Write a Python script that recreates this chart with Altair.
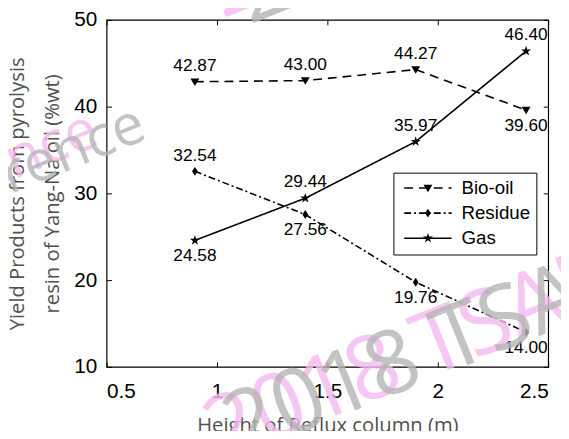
import altair as alt
import pandas as pd

# ---------------- data ----------------
heights = [0.9, 1.4, 1.9, 2.4]
series = ["Bio-oil", "Residue", "Gas"]
bio_oil = [42.87, 43.00, 44.27, 39.60]
residue = [32.54, 27.56, 19.76, 14.00]
gas = [24.58, 29.44, 35.97, 46.40]
label_side = {
    "Bio-oil": ["above", "above", "above", "below"],
    "Residue": ["above", "below", "below", "below"],
    "Gas": ["below", "above", "above", "above"],
}
x_ticks = [0.5, 1, 1.5, 2, 2.5]
y_ticks = [10, 20, 30, 40, 50]
x_title = "Height of Reflux column (m)"
y_title = ["Yield Products from pyrolysis", "resin of Yang-Na oil (%wt)"]
watermark_main = "2018 TSAE"
watermark_side = "Conference"

rows = []
for name, vals in zip(series, [bio_oil, residue, gas]):
    for h, v, side in zip(heights, vals, label_side[name]):
        rows.append({"height": h, "yield": v, "series": name, "side": side,
                     "label": f"{v:.2f}"})
df = pd.DataFrame(rows)

# ---------------- styles ----------------
W, H = 448, 352
NUM_FONT = "Liberation Sans"
TITLE_FONT = "Open Sans"
TITLE_COLOR = "#505050"
PINK = "#f5baf1"
GREY = "#b5b5b5"

xscale = alt.Scale(domain=[0.5, 2.5], nice=False, zero=False)
yscale = alt.Scale(domain=[10, 50], nice=False, zero=False)

dash_scale = alt.Scale(domain=series, range=[[9, 6], [7, 3, 2, 3], [1, 0]])

tri = "M-1,-0.75L1,-0.75L0,0.95Z"
dia = "M0,-1L0.65,0L0,1L-0.65,0Z"
star = ("M0,-1.2L0.269,-0.371L1.141,-0.371L0.436,0.142L0.706,0.971L0,0.458"
        "L-0.706,0.971L-0.436,0.142L-1.141,-0.371L-0.269,-0.371Z")
marker_paths = {"Bio-oil": tri, "Residue": dia, "Gas": star}

LEG_X, LEG_Y = 291, 155
LEG_LINE = "M-1,0L9.67,0"   # line sample, in symbol units (size 81 -> 4.5 px/unit)


def tick_axis(orient, offset, values):
    return alt.Axis(orient=orient, offset=offset, values=values, labels=False,
                    domain=False, grid=False, ticks=True, tickSize=5,
                    tickColor="black", tickWidth=1, title="")


# ---------------- layers ----------------
# lines; their strokeDash legend draws the line samples, labels and frame
lines = alt.Chart(df).mark_line(color="black", strokeWidth=1.6).encode(
    x=alt.X("height:Q", scale=xscale,
            axis=alt.Axis(orient="bottom", values=x_ticks, format="~g", ticks=False,
                          tickSize=0, domain=False, grid=False,
                          labelFont=NUM_FONT, labelFontSize=21, labelColor="black",
                          labelPadding=14, title=x_title, titleFont=TITLE_FONT,
                          titleFontSize=20.5, titleFontWeight="normal",
                          titleColor=TITLE_COLOR, titlePadding=15)),
    y=alt.Y("yield:Q", scale=yscale,
            axis=alt.Axis(orient="left", values=y_ticks, ticks=False, tickSize=0,
                          domain=False, grid=False, labelFont=NUM_FONT,
                          labelFontSize=21, labelColor="black", labelPadding=10,
                          title=y_title, titleFont=TITLE_FONT, titleFontSize=20.5,
                          titleFontWeight="normal", titleColor=TITLE_COLOR,
                          titleAngle=270, titleAlign="center",
                          titleBaseline="alphabetic", titleLineHeight=35,
                          titleX=-84, titleY=H / 2)),
    strokeDash=alt.StrokeDash(
        "series:N", scale=dash_scale,
        legend=alt.Legend(title=None, orient="none", legendX=LEG_X, legendY=LEG_Y,
                          direction="vertical", padding=6, strokeColor="black",
                          labelFont=NUM_FONT, labelFontSize=19, labelColor="black",
                          labelOffset=44, symbolType=LEG_LINE, symbolSize=81,
                          symbolStrokeWidth=1.6, symbolStrokeColor="black",
                          rowPadding=5.5)),
)

point_layers = []
for i, name in enumerate(series):
    if i == 0:
        xa = tick_axis("top", -H, x_ticks)
        ya = tick_axis("right", -W, y_ticks)
    else:
        xa = None
        ya = None
    point_layers.append(
        alt.Chart(df).transform_filter(alt.datum.series == name).mark_point(
            filled=True, size=81, color="black", opacity=1, shape=marker_paths[name]
        ).encode(
            x=alt.X("height:Q", scale=xscale, axis=xa),
            y=alt.Y("yield:Q", scale=yscale, axis=ya),
        )
    )

text_above = alt.Chart(df).transform_filter(alt.datum.side == "above").mark_text(
    font=NUM_FONT, fontSize=17.5, color="black", baseline="middle", dy=-16
).encode(
    x=alt.X("height:Q", scale=xscale, axis=tick_axis("bottom", -H, x_ticks)),
    y=alt.Y("yield:Q", scale=yscale, axis=tick_axis("left", -W, y_ticks)),
    text="label:N",
)

text_below = alt.Chart(df).transform_filter(alt.datum.side == "below").mark_text(
    font=NUM_FONT, fontSize=17.5, color="black", baseline="middle", dy=16
).encode(
    x=alt.X("height:Q", scale=xscale, axis=None),
    y=alt.Y("yield:Q", scale=yscale, axis=None),
    text="label:N",
)

# legend-only layer: its shape legend puts the markers onto the line samples
marker_keys = [s + " " for s in series]
legend_layer = alt.Chart(df).transform_filter("false").transform_calculate(
    key="datum.series + ' '"
).mark_point(filled=True, size=81, color="black", opacity=1).encode(
    shape=alt.Shape(
        "key:N",
        scale=alt.Scale(domain=marker_keys, range=[tri, dia, star]),
        legend=alt.Legend(title=None, orient="none", legendX=LEG_X + 19.5,
                          legendY=LEG_Y, direction="vertical", padding=6,
                          labelFont=NUM_FONT, labelFontSize=19, labelOpacity=0,
                          labelOffset=6, symbolSize=81, rowPadding=5.5,
                          symbolStrokeWidth=0, symbolFillColor="black"),
    ),
)

# ---------------- watermark (drawn on top, translucent) ----------------
wm_df = pd.DataFrame({"t": [watermark_main]})
wm_side_df = pd.DataFrame({"t": [watermark_side]})


def wm(data, x, y, color, size, align):
    return alt.Chart(data).mark_text(
        font=TITLE_FONT, fontSize=size, color=color, angle=338, align=align,
        baseline="alphabetic", opacity=0.8
    ).encode(x=alt.value(x), y=alt.value(y), text="t:N")


watermarks = [
    wm(wm_df, 114, 449, PINK, 90, "left"),
    wm(wm_side_df, -5, 126, PINK, 58, "right"),
    wm(wm_df, 117, -1, PINK, 90, "left"),
    wm(wm_df, 134, 444, GREY, 90, "left"),
    wm(wm_side_df, 43, 120, GREY, 58, "right"),
    wm(wm_df, 145, 5, GREY, 90, "left"),
]

chart = alt.layer(
    legend_layer, lines, *point_layers, text_above, text_below, *watermarks
).resolve_axis(
    x="independent", y="independent"
).properties(
    width=W, height=H,
    autosize=alt.AutoSizeParams(type="none"),
    padding={"left": 100, "top": 9, "right": 13, "bottom": 62},
    background="white",
).configure_view(stroke="black", strokeWidth=1.2)

chart.save("out.html", embed_options={"renderer": "svg", "actions": False})
